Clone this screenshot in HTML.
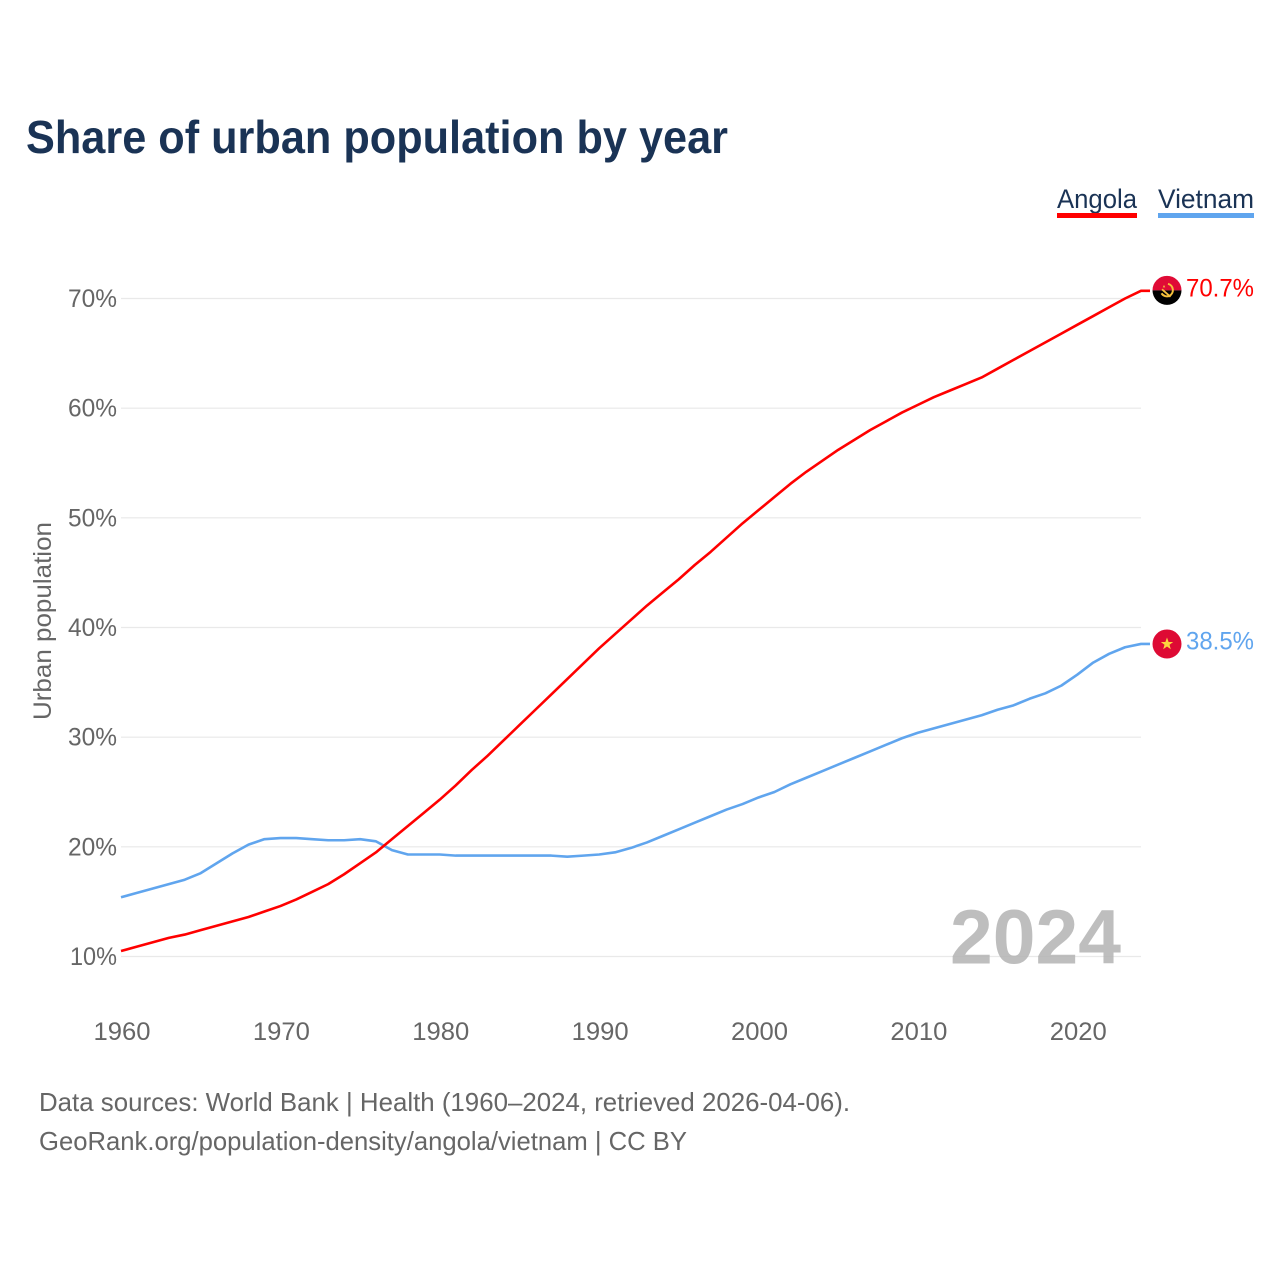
<!DOCTYPE html>
<html lang="en">
<head>
<meta charset="utf-8">
<title>Share of urban population by year</title>
<style>
html,body{margin:0;padding:0;background:#fff}
svg{display:block}
text{font-family:"Liberation Sans",sans-serif}
</style>
</head>
<body>
<svg id="chart" xmlns="http://www.w3.org/2000/svg" width="1280" height="1280" viewBox="0 0 1280 1280">
  <text x="26" y="153" font-size="46" font-weight="700" fill="#1a3355" textLength="702" lengthAdjust="spacingAndGlyphs">Share of urban population by year</text>

  <g>
    <text x="1057" y="208" font-size="27" fill="#1a3355" textLength="80" lengthAdjust="spacingAndGlyphs">Angola</text>
    <rect x="1057" y="213" width="80" height="5" fill="#ff0000"/>
  </g>
  <g>
    <text x="1158" y="208" font-size="27" fill="#1a3355" textLength="96" lengthAdjust="spacingAndGlyphs">Vietnam</text>
    <rect x="1158" y="213" width="96" height="5" fill="#60a5ee"/>
  </g>

  <text transform="translate(51,621) rotate(-90)" text-anchor="middle" font-size="25" fill="#666666" textLength="198" lengthAdjust="spacingAndGlyphs">Urban population</text>

  <g id="grid"></g>
  <g id="yticks"></g>
  <g id="xticks"></g>

  <text x="950" y="963.5" font-size="77" font-weight="700" fill="#b3b3b3" fill-opacity="0.85" textLength="171" lengthAdjust="spacingAndGlyphs">2024</text>

  <g id="series"></g>
  <g id="ends"></g>

  <text x="39" y="1111" font-size="26" fill="#666666" textLength="811" lengthAdjust="spacingAndGlyphs">Data sources: World Bank | Health (1960–2024, retrieved 2026-04-06).</text>
  <text x="39" y="1150" font-size="26" fill="#666666" textLength="648" lengthAdjust="spacingAndGlyphs">GeoRank.org/population-density/angola/vietnam | CC BY</text>
</svg>
<script>
const startYear = 1960;
const angolaValues = [10.5,10.9,11.3,11.7,12.0,12.4,12.8,13.2,13.6,14.1,14.6,15.2,15.9,16.6,17.5,18.5,19.5,20.7,21.9,23.1,24.3,25.6,27.0,28.3,29.7,31.1,32.5,33.9,35.3,36.7,38.1,39.4,40.7,42.0,43.2,44.4,45.7,46.9,48.2,49.5,50.7,51.9,53.1,54.2,55.2,56.2,57.1,58.0,58.8,59.6,60.3,61.0,61.6,62.2,62.8,63.6,64.4,65.2,66.0,66.8,67.6,68.4,69.2,70.0,70.7];
const vietnamValues = [15.4,15.8,16.2,16.6,17.0,17.6,18.5,19.4,20.2,20.7,20.8,20.8,20.7,20.6,20.6,20.7,20.5,19.7,19.3,19.3,19.3,19.2,19.2,19.2,19.2,19.2,19.2,19.2,19.1,19.2,19.3,19.5,19.9,20.4,21.0,21.6,22.2,22.8,23.4,23.9,24.5,25.0,25.7,26.3,26.9,27.5,28.1,28.7,29.3,29.9,30.4,30.8,31.2,31.6,32.0,32.5,32.9,33.5,34.0,34.7,35.7,36.8,37.6,38.2,38.5];
const yTickValues = [10,20,30,40,50,60,70];
const xTickValues = [1960,1970,1980,1990,2000,2010,2020];

const NS = 'http://www.w3.org/2000/svg';
const xScale = function (year) { return 121 + (year - 1960) * (1020 / 64); };
const yScale = function (v) { return 956.5 - (v - 10) * (658 / 60); };

function make(tag, attrs, parent, text) {
  const el = document.createElementNS(NS, tag);
  for (const k in attrs) el.setAttribute(k, attrs[k]);
  if (text !== undefined) el.textContent = text;
  parent.appendChild(el);
  return el;
}

const grid = document.getElementById('grid');
const yticks = document.getElementById('yticks');
const xticks = document.getElementById('xticks');
const seriesGroup = document.getElementById('series');
const ends = document.getElementById('ends');

yTickValues.forEach(function (v) {
  const line = make('line', {x1: 121, x2: 1141, y1: yScale(v), y2: yScale(v), stroke: '#e9e9e9', 'stroke-width': 1.2}, grid);
  
  
  const label = make('text', {x: 117, y: yScale(v) + 8.5, 'text-anchor': 'end', 'font-size': 25, fill: '#666666', textLength: v === 10 ? 47 : 49, lengthAdjust: 'spacingAndGlyphs'}, yticks, v + '%');
  
  
});

xTickValues.forEach(function (y) {
  const label = make('text', {x: xScale(y) + 1, y: 1040, 'text-anchor': 'middle', 'font-size': 25, fill: '#666666', textLength: 57, lengthAdjust: 'spacingAndGlyphs'}, xticks, String(y));
  
  
});

function drawSeries(values, color) {
  const pts = values.map(function (v, i) { return xScale(startYear + i).toFixed(2) + ',' + yScale(v).toFixed(2); });
  const lastY = yScale(values[values.length - 1]);
  const lastX = xScale(startYear + values.length - 1);
  pts.push((lastX + 9).toFixed(2) + ',' + lastY.toFixed(2));
  return make('polyline', {points: pts.join(' '), fill: 'none', stroke: color, 'stroke-width': 2.6, 'stroke-linejoin': 'round'}, seriesGroup);
}

const vietnamLine = drawSeries(vietnamValues, '#60a5ee');


const angolaLine = drawSeries(angolaValues, '#ff0000');



const flagX = 1167;

const angolaY = yScale(angolaValues[angolaValues.length - 1]) - 0.5;
const angolaFlag = make('g', {transform: 'translate(' + flagX + ',' + angolaY + ')'}, ends);


make('path', {d: 'M-14.5 0A14.5 14.5 0 0 1 14.5 0Z', fill: '#e00b36'}, angolaFlag);
make('path', {d: 'M-14.5 0A14.5 14.5 0 0 0 14.5 0Z', fill: '#000000'}, angolaFlag);
make('path', {d: 'M1 -6.5A6.5 6.5 0 0 1 2.5 5.5A6.5 6.5 0 0 1 -5.5 3', fill: 'none', stroke: '#f6c03c', 'stroke-width': 2}, angolaFlag);
make('path', {d: 'M-5 -1L3.5 6.5', fill: 'none', stroke: '#f6c03c', 'stroke-width': 1.8}, angolaFlag);
make('polygon', {points: '-3,-5.5 -1.8,-3 -4.2,-3', fill: '#f6c03c'}, angolaFlag);

const angolaLabel = make('text', {x: 1254, y: yScale(angolaValues[angolaValues.length - 1]) + 5.5, 'text-anchor': 'end', 'font-size': 25, fill: '#ff0000', textLength: 68, lengthAdjust: 'spacingAndGlyphs'}, ends, angolaValues[angolaValues.length - 1].toFixed(1) + '%');



const vietnamY = yScale(vietnamValues[vietnamValues.length - 1]);
const vietnamFlag = make('g', {transform: 'translate(' + flagX + ',' + vietnamY + ')'}, ends);


make('circle', {cx: 0, cy: 0, r: 14.5, fill: '#de0a34'}, vietnamFlag);
make('polygon', {points: '0,-6.5 1.6,-2 6.2,-2 2.5,0.8 3.8,5.3 0,2.6 -3.8,5.3 -2.5,0.8 -6.2,-2 -1.6,-2', fill: '#fcd53f'}, vietnamFlag);

const vietnamLabel = make('text', {x: 1254, y: vietnamY + 5.5, 'text-anchor': 'end', 'font-size': 25, fill: '#60a5ee', textLength: 68, lengthAdjust: 'spacingAndGlyphs'}, ends, vietnamValues[vietnamValues.length - 1].toFixed(1) + '%');


</script>
</body>
</html>
